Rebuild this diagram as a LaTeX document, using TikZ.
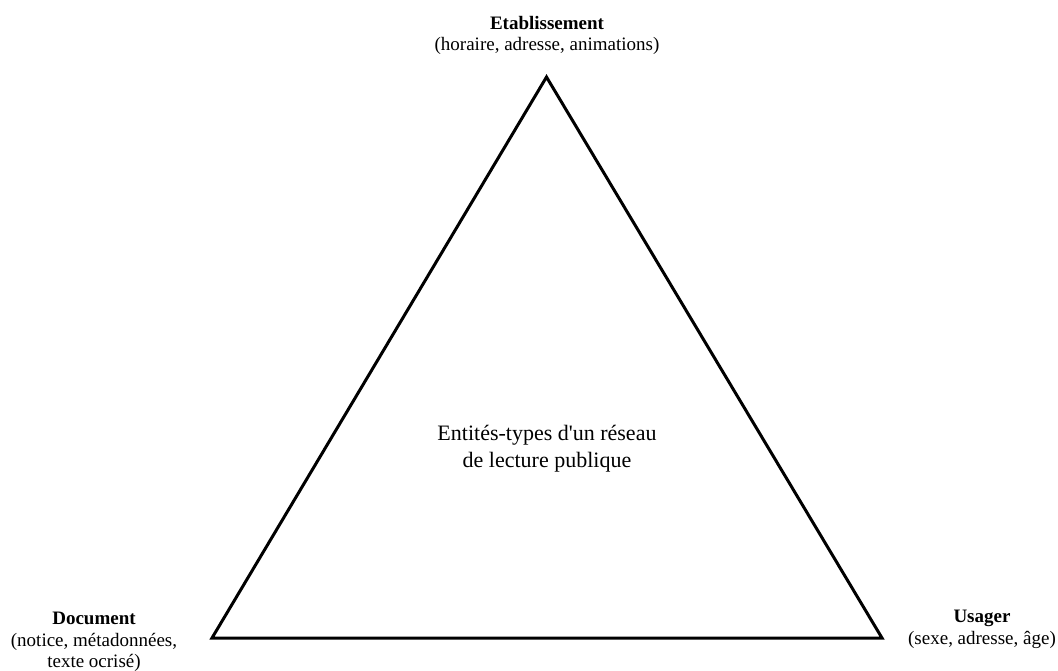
\documentclass[tikz,border=0pt]{standalone}
\usepackage{fontspec}
\setmainfont{Liberation Serif}
\begin{document}
\begin{tikzpicture}[x=1pt,y=-1pt,
  edge/.style={draw=black, line width=3pt, line join=miter},
  vertexlabel/.style={anchor=north, inner sep=0pt, align=center,
    font=\fontsize{19}{21.5}\selectfont},
  centerlabel/.style={anchor=north, inner sep=0pt, align=center,
    font=\fontsize{22}{27}\selectfont}]
  \useasboundingbox (0,0) rectangle (1058,671);
  % triangle corners
  \coordinate (top) at (546.5,77);
  \coordinate (left) at (212,638);
  \coordinate (right) at (882,638);
  \draw[edge] (top) -- (left) -- (right) -- cycle;
  % vertex labels
  \node[vertexlabel] (etab) at (547,16)
    {\textbf{Etablissement}\\(horaire, adresse, animations)};
  \node[vertexlabel] (doc) at (94,612)
    {\textbf{Document}\\(notice, métadonnées,\\texte ocrisé)};
  \node[vertexlabel] (usager) at (982,610)
    {\textbf{Usager}\\(sexe, adresse, âge)};
  % caption inside the triangle (straight apostrophe)
  \node[centerlabel] (caption) at (547,425)
    {Entités-types d\textquotesingle un réseau\\de lecture publique};
\end{tikzpicture}
\end{document}
